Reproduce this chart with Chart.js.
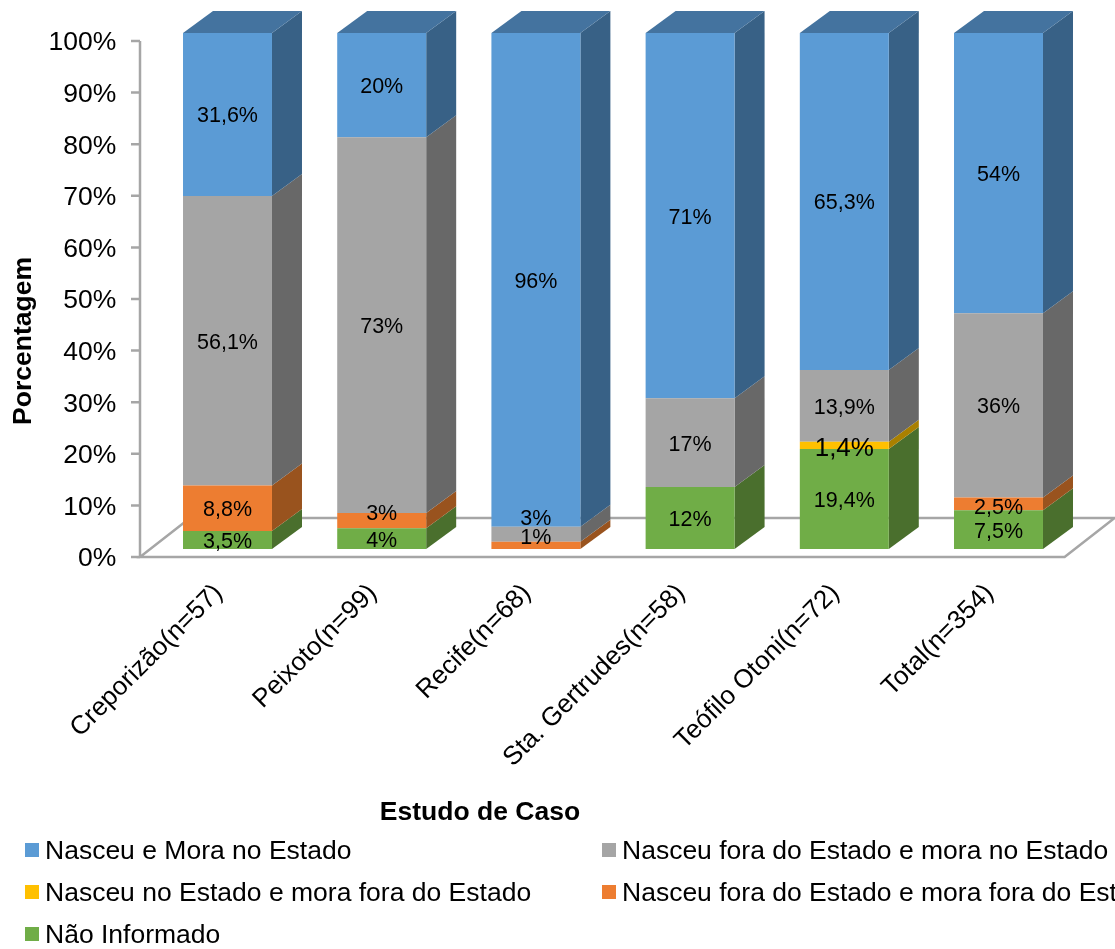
<!DOCTYPE html>
<html>
<head>
<meta charset="utf-8">
<style>
  html, body { margin: 0; padding: 0; background: #fff; overflow: hidden; }
  canvas { display: block; }
</style>
<script src="https://cdn.jsdelivr.net/npm/chart.js@4"></script>
</head>
<body>
<canvas id="chart" width="1115" height="949"></canvas>
<script>
const categories = ['Creporizão(n=57)', 'Peixoto(n=99)', 'Recife(n=68)', 'Sta. Gertrudes(n=58)', 'Teófilo Otoni(n=72)', 'Total(n=354)'];

// alturas (nem sempre batem exatamente com o rotulo impresso)
const naoInformado = [3.5, 4, 0, 12, 19.4, 7.5];
const foraFora = [8.8, 3, 1.4, 0, 0, 2.5];
const estadoFora = [0, 0, 0, 0, 1.4, 0];
const foraEstado = [56.1, 72.8, 2.9, 17.2, 13.9, 35.7];
const nasceuMora = [31.6, 20.2, 95.7, 70.8, 65.3, 54.3];

const naoInformadoText = ['3,5%', '4%', '', '12%', '19,4%', '7,5%'];
const foraForaText = ['8,8%', '3%', '1%', '', '', '2,5%'];
const estadoForaText = ['', '', '', '', '1,4%', ''];
const foraEstadoText = ['56,1%', '73%', '3%', '17%', '13,9%', '36%'];
const nasceuMoraText = ['31,6%', '20%', '96%', '71%', '65,3%', '54%'];

const FONT = '"Liberation Sans", Arial, sans-serif';
const DEPTH_X = 30, DEPTH_Y = 22;
const FLOOR_X = 50, FLOOR_Y = 39, FLOOR_DROP = 8;

function series(label, data, texts, color, side, top, textSize, shift) {
    return { label, data, texts, backgroundColor: color, side, top, textSize: textSize || 21.5, shift: shift || [0, 0, 0, 0, 0, 0] };
}

const datasets = [
    series('Não Informado', naoInformado, naoInformadoText, '#70ad47', '#4a6f2d'),
    series('Nasceu fora do Estado e mora fora do Estado', foraFora, foraForaText, '#ed7d31', '#99531e', null, 21.5, [0, -9, -9, 0, 0, 2]),
    series('Nasceu no Estado e mora fora do Estado', estadoFora, estadoForaText, '#ffc000', '#a98000', null, 26, [0, 0, 0, 0, 2, 0]),
    series('Nasceu fora do Estado e mora no Estado', foraEstado, foraEstadoText, '#a5a5a5', '#686868', null, 21.5, [0, 0, -17, 0, 0, 0]),
    series('Nasceu e Mora no Estado', nasceuMora, nasceuMoraText, '#5b9bd5', '#386186', '#44739f')
];

const legendOrder = [
    { set: 4, x: 23, y: 852 },
    { set: 3, x: 600, y: 852 },
    { set: 2, x: 23, y: 894 },
    { set: 1, x: 600, y: 894 },
    { set: 0, x: 23, y: 936 }
];

function drawText(ctx, text, x, y, font, rotate) {
    ctx.save();
    ctx.translate(x, y);
    if (rotate) ctx.rotate(rotate);
    ctx.font = font;
    ctx.fillStyle = '#000';
    ctx.textAlign = 'center';
    ctx.textBaseline = 'middle';
    ctx.fillText(text, 0, 0);
    ctx.restore();
}

function poly(ctx, pts, color) {
    ctx.fillStyle = color;
    ctx.beginPath();
    pts.forEach((p, i) => i ? ctx.lineTo(p[0], p[1]) : ctx.moveTo(p[0], p[1]));
    ctx.closePath();
    ctx.fill();
}

const box3d = {
    id: 'box3d',
    beforeDatasetsDraw(chart) {
        const ctx = chart.ctx;
        const yScale = chart.scales.y;
        const x0 = 140;
        const y0 = yScale.getPixelForValue(0) + FLOOR_DROP;
        const right = chart.chartArea.right - 11;

        // piso e eixo vertical
        ctx.save();
        ctx.strokeStyle = '#a6a6a6';
        ctx.lineWidth = 2.5;
        ctx.beginPath();
        ctx.moveTo(x0, y0);
        ctx.lineTo(right, y0);
        ctx.lineTo(right + FLOOR_X, y0 - FLOOR_Y);
        ctx.lineTo(x0 + FLOOR_X, y0 - FLOOR_Y);
        ctx.closePath();
        ctx.stroke();

        ctx.beginPath();
        ctx.moveTo(x0, y0);
        ctx.lineTo(x0, yScale.getPixelForValue(100) + FLOOR_DROP);
        yScale.ticks.forEach(t => {
            const y = yScale.getPixelForValue(t.value) + FLOOR_DROP;
            ctx.moveTo(x0 - 9, y);
            ctx.lineTo(x0, y);
        });
        ctx.stroke();
        ctx.restore();

        // faces laterais e topo
        chart.data.datasets.forEach((ds, d) => {
            chart.getDatasetMeta(d).data.forEach((bar, i) => {
                if (!ds.data[i]) return;
                const r = bar.x + bar.width / 2;
                const l = bar.x - bar.width / 2;
                poly(ctx, [[r, bar.base], [r + DEPTH_X, bar.base - DEPTH_Y], [r + DEPTH_X, bar.y - DEPTH_Y], [r, bar.y]], ds.side);
                if (ds.top) {
                    poly(ctx, [[l, bar.y], [r, bar.y], [r + DEPTH_X, bar.y - DEPTH_Y], [l + DEPTH_X, bar.y - DEPTH_Y]], ds.top);
                }
            });
        });
    },
    afterDatasetsDraw(chart) {
        const ctx = chart.ctx;

        // rotulos de valor
        chart.data.datasets.forEach((ds, d) => {
            chart.getDatasetMeta(d).data.forEach((bar, i) => {
                if (!ds.texts[i]) return;
                const y = (bar.y + bar.base) / 2 + 2 + ds.shift[i];
                drawText(ctx, ds.texts[i], bar.x, y, ds.textSize + 'px ' + FONT);
            });
        });

        // titulos
        drawText(ctx, 'Porcentagem', 24, 341, 'bold 26.5px ' + FONT, -Math.PI / 2);
        drawText(ctx, 'Estudo de Caso', 480, 813, 'bold 26.5px ' + FONT);

        // legenda
        legendOrder.forEach(item => {
            const ds = chart.data.datasets[item.set];
            ctx.fillStyle = ds.backgroundColor;
            ctx.fillRect(item.x + 2, item.y - 9, 14, 14);
            ctx.fillStyle = '#000';
            ctx.font = '26.5px ' + FONT;
            ctx.textAlign = 'left';
            ctx.textBaseline = 'middle';
            ctx.fillText(ds.label, item.x + 22, item.y);
        });
    }
};

new Chart(document.getElementById('chart').getContext('2d'), {
    type: 'bar',
    data: { labels: categories, datasets: datasets },
    plugins: [box3d],
    options: {
        responsive: false,
        animation: false,
        layout: { padding: { top: 33, right: 39.4, left: 0, bottom: 0 } },
        plugins: { legend: { display: false }, tooltip: { enabled: false } },
        datasets: { bar: { categoryPercentage: 1, barPercentage: 0.577 } },
        scales: {
            x: {
                stacked: true,
                border: { display: false },
                grid: { display: false, drawTicks: false },
                ticks: {
                    color: '#000',
                    font: { family: FONT, size: 26 },
                    minRotation: 45,
                    maxRotation: 45,
                    autoSkip: false,
                    padding: 29,
                    labelOffset: -9
                },
                afterFit(scale) {
                    scale.height = 400;
                    scale.paddingLeft = 0;
                    scale.paddingRight = 0;
                }
            },
            y: {
                stacked: true,
                min: 0,
                max: 100,
                border: { display: false },
                grid: { display: false, drawTicks: false },
                ticks: {
                    stepSize: 10,
                    color: '#000',
                    font: { family: FONT, size: 26.5 },
                    padding: 34,
                    labelOffset: 10,
                    callback: v => v + '%'
                },
                afterFit(scale) {
                    scale.width = 150.4;
                    scale.paddingTop = 0;
                    scale.paddingBottom = 0;
                }
            }
        }
    }
});
</script>
</body>
</html>
